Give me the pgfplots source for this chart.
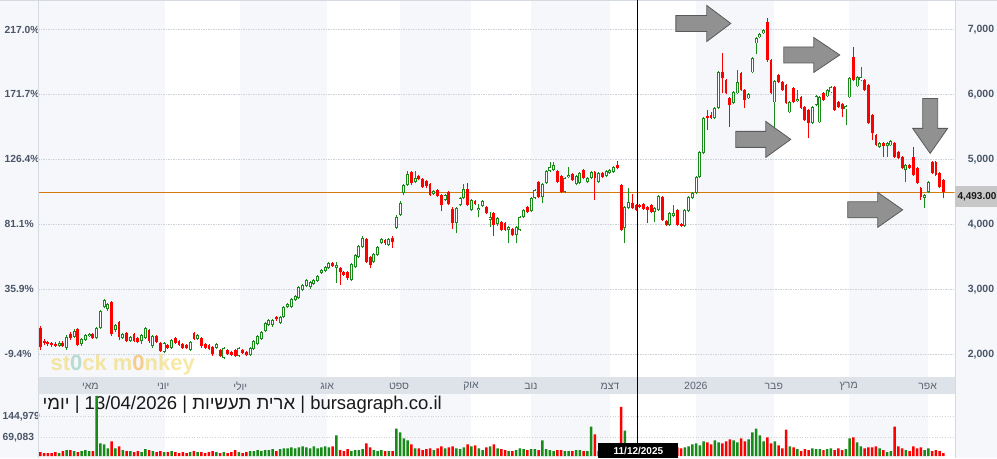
\documentclass[border=0pt]{standalone}
\usepackage{pgfplots}
\pgfplotsset{compat=1.18}
\usepackage{pgfplotstable}
\usepackage{fontspec}
\setmainfont{Liberation Sans}
\newfontfamily\heb[Script=Hebrew]{Liberation Sans}
\TeXXeTstate=1
\definecolor{bandgray}{HTML}{F5F7FA}
\definecolor{strip}{HTML}{DEE2E9}
\definecolor{gridc}{HTML}{CDD3DB}
\definecolor{lab}{HTML}{4A5568}
\definecolor{monthc}{HTML}{5B6472}
\definecolor{cgreen}{HTML}{178A17}
\definecolor{cred}{HTML}{FF0000}
\definecolor{orangeline}{HTML}{D6780A}
\definecolor{arrowfill}{HTML}{8C8C8C}
\definecolor{arrowdraw}{HTML}{5A5A5A}
\definecolor{borderc}{HTML}{D5D9E0}
\definecolor{wm}{HTML}{F2D34B}

\pgfplotstableread{
i o h l c v
0 2400 2431 2062 2108 14400
1 2200 2231 2138 2169 10800
2 2185 2200 2123 2154 10800
3 2169 2185 2108 2138 10800
4 2154 2185 2108 2123 14400
6 2169 2200 2108 2123 18000
8 2308 2338 2215 2246 21600
10 2385 2400 2123 2138 14400
14 2308 2323 2231 2246 18000
19 2800 2815 2277 2308 54000
21 2492 2508 2215 2262 36000
23 2323 2338 2185 2200 18000
25 2308 2323 2185 2200 14400
26 2246 2262 2169 2185 18000
29 2369 2385 2169 2200 21600
31 2277 2292 2169 2185 14400
32 2169 2185 2031 2046 18000
34 2138 2154 2077 2092 14400
36 2246 2262 2154 2169 14400
37 2200 2215 2123 2138 10800
38 2154 2169 2077 2092 14400
39 2138 2154 2077 2092 10800
41 2323 2338 2215 2231 18000
43 2246 2262 2092 2123 14400
44 2154 2169 2077 2092 10800
45 2138 2154 2062 2077 14400
46 2108 2123 1969 2000 18000
48 2062 2077 1954 1969 10800
50 2062 2077 1985 2000 10800
51 2031 2046 1969 1985 14400
52 2062 2077 1954 1969 21600
54 2062 2077 2000 2015 10800
55 2031 2046 1969 1985 14400
63 2569 2585 2508 2538 18000
78 3400 3415 3338 3354 36000
80 3323 3338 3062 3262 21600
81 3262 3277 3200 3215 18000
82 3262 3277 3138 3169 25200
87 3769 3785 3400 3415 46800
88 3492 3508 3323 3369 32400
92 3754 3769 3677 3708 18000
94 3785 3815 3631 3723 18000
99 4800 4815 4600 4631 43200
101 4738 4754 4677 4692 28800
102 4692 4708 4554 4569 21600
103 4662 4677 4554 4585 25200
104 4615 4631 4431 4446 28800
106 4523 4538 4415 4431 28800
107 4446 4462 4200 4292 36000
109 4492 4508 4292 4308 32400
110 4231 4262 3923 4015 36000
114 4538 4631 4277 4292 43200
116 4354 4369 4292 4308 39600
119 4262 4277 4154 4169 32400
121 4169 4185 3815 3985 43200
123 4031 4046 3892 3908 25200
124 4015 4031 3892 3908 21600
126 3923 3938 3815 3831 18000
130 4262 4277 4169 4185 21600
133 4646 4662 4400 4415 21600
138 4815 4831 4631 4646 21600
139 4738 4754 4477 4492 21600
142 4769 4785 4662 4677 18000
145 4831 4846 4692 4708 18000
148 4800 4815 4369 4708 79200
150 4785 4800 4708 4723 14400
154 4908 4969 4846 4862 25200
155 4600 4615 3892 3908 180000
158 4323 4462 4231 4246 21600
159 4292 4308 4200 4215 14400
160 4292 4308 4246 4262 10800
161 4308 4323 4215 4231 14400
162 4262 4277 4015 4215 10800
163 4292 4308 4169 4185 18000
166 4415 4431 4046 4062 28800
167 4046 4062 3969 3985 28800
170 4215 4231 3969 3985 32400
171 4000 4015 3954 3969 28800
178 5662 5754 5446 5631 50400
179 5677 5723 5615 5631 43200
182 6338 6631 6015 6246 46800
183 6215 6231 6000 6015 54000
184 5938 5954 5492 5831 61200
187 6323 6338 6046 6062 64800
188 6062 6077 5785 5908 54000
194 7108 7169 6492 6523 68400
195 6523 6538 6000 6015 46800
197 6292 6308 6169 6185 39600
198 6185 6200 6046 6062 28800
199 6138 6154 5846 5862 97200
201 6092 6108 5862 5877 32400
203 5954 5969 5769 5785 18000
204 5800 5815 5585 5600 25200
205 5754 5769 5323 5554 21600
209 6015 6031 5892 5908 21600
212 6108 6123 5738 5754 21600
213 5877 5892 5785 5800 28800
214 5846 5862 5646 5769 21600
217 6569 6723 6200 6215 68400
220 6215 6231 6046 6062 28800
221 6138 6154 5538 5554 32400
222 5677 5692 5292 5400 32400
223 5369 5385 5200 5215 36000
225 5246 5261 5031 5200 21600
228 5246 5261 5015 5031 108000
229 5108 5123 5000 5015 36000
230 5031 5046 4846 4862 28800
232 4908 4923 4846 4862 18000
233 5031 5185 4738 4754 36000
234 4862 4877 4615 4631 28800
235 4554 4569 4369 4415 32400
238 4954 4969 4769 4785 18000
239 4954 4969 4738 4754 21600
240 4785 4800 4554 4569 18000
241 4677 4692 4400 4493 10800
}\redtab

\pgfplotstableread{
i o h l c v
5 2123 2200 2108 2169 10800
7 2092 2292 2062 2262 21600
9 2262 2385 2246 2354 18000
11 2154 2246 2123 2231 18000
12 2215 2308 2200 2292 21600
13 2277 2323 2262 2308 18000
15 2246 2415 2231 2400 220000
16 2400 2677 2385 2662 46800
17 2723 2846 2708 2831 43200
18 2692 2785 2662 2769 28800
20 2369 2462 2338 2446 28800
22 2246 2323 2231 2308 21600
24 2200 2277 2185 2262 18000
27 2200 2308 2154 2292 14400
28 2246 2415 2231 2400 25200
30 2123 2292 2092 2277 18000
33 2031 2185 2015 2169 14400
35 2092 2231 2077 2215 18000
40 2062 2200 2046 2185 14400
42 2231 2308 2215 2292 14400
47 2092 2169 2077 2154 14400
49 1938 2108 1923 2092 14400
53 1969 2108 1954 2092 14400
56 1985 2108 1969 2092 18000
57 2077 2215 2062 2200 18000
58 2154 2292 2138 2277 21600
59 2231 2354 2215 2338 18000
60 2354 2492 2338 2477 21600
61 2446 2538 2431 2523 21600
62 2446 2538 2415 2523 25200
64 2477 2585 2462 2569 25200
65 2569 2738 2554 2723 28800
66 2723 2785 2708 2769 28800
67 2723 2862 2708 2846 32400
68 2831 2908 2815 2892 28800
69 2862 3046 2846 3031 32400
70 2985 3077 2969 3062 36000
71 3046 3154 3031 3138 32400
72 3031 3123 3000 3108 28800
73 3077 3154 3062 3138 36000
74 3123 3215 3108 3200 28800
75 3246 3308 3231 3292 32400
76 3277 3354 3262 3338 36000
77 3323 3415 3308 3400 32400
79 3323 3415 3092 3369 75600
83 3138 3400 3123 3385 18000
84 3338 3538 3323 3523 21600
85 3492 3677 3477 3662 21600
86 3646 3815 3631 3785 25200
89 3415 3554 3400 3538 21600
90 3523 3662 3508 3646 18000
91 3708 3785 3692 3769 21600
93 3677 3785 3662 3769 18000
95 3938 4138 3923 4108 100800
96 4138 4354 4123 4323 86400
97 4477 4615 4446 4600 64800
98 4600 4815 4585 4769 57600
100 4646 4815 4631 4708 28800
105 4462 4523 4446 4508 21600
108 4369 4462 4354 4446 28800
111 4015 4262 3862 4246 28800
112 4292 4415 4277 4400 25200
113 4400 4615 4385 4538 32400
115 4215 4385 4200 4369 36000
117 4215 4308 4108 4246 28800
118 4277 4369 4262 4354 21600
120 4062 4185 3954 4108 36000
122 4000 4108 3969 4092 28800
125 3908 3969 3708 3954 18000
127 3831 3969 3708 3954 21600
128 3908 4123 3892 4108 28800
129 4108 4231 4092 4215 25200
131 4200 4415 4185 4400 25200
132 4400 4538 4385 4523 25200
134 4415 4631 4323 4615 57600
135 4631 4831 4615 4815 25200
136 4815 4954 4800 4877 21600
137 4831 4954 4815 4908 18000
140 4492 4723 4477 4708 18000
141 4723 4877 4708 4754 18000
143 4615 4754 4600 4738 21600
144 4631 4800 4615 4785 21600
146 4646 4723 4631 4708 18000
147 4708 4815 4692 4800 108000
149 4646 4800 4631 4785 18000
151 4738 4831 4723 4815 18000
152 4785 4846 4769 4831 18000
153 4800 4892 4785 4877 21600
156 3938 4277 3708 4262 93600
157 4246 4554 4231 4338 28800
164 4185 4262 4031 4246 21600
165 4215 4446 4200 4431 25200
168 3985 4185 3969 4169 32400
169 4123 4292 4108 4169 36000
172 3969 4231 3954 4215 32400
173 4200 4431 4185 4415 36000
174 4400 4492 4385 4477 43200
175 4477 4738 4462 4723 46800
176 4723 5123 4708 5108 39600
177 5092 5646 5077 5631 54000
180 5631 5800 5615 5785 57600
181 5785 6354 5769 6338 50400
185 5862 6046 5846 6031 57600
186 6015 6369 6000 6185 50400
189 5938 6015 5923 6000 61200
190 6338 6569 6323 6554 86400
191 6785 6877 6615 6862 100800
192 6877 6938 6862 6923 75600
193 6938 7000 6923 6985 54000
196 5877 6215 5415 6200 54000
200 5723 5892 5708 5877 36000
202 5892 6062 5877 5923 25200
206 5554 5815 5538 5800 28800
207 5831 5985 5815 5969 25200
208 5569 5969 5554 5954 25200
210 5969 6077 5954 6062 25200
211 6031 6123 6015 6108 28800
215 5769 5831 5523 5815 25200
216 5954 6262 5938 6246 64800
218 6123 6277 6108 6262 50400
219 6215 6415 6200 6262 36000
224 5185 5261 5169 5246 28800
226 5200 5261 5031 5246 14400
227 5215 5292 5200 5277 18000
231 4831 4923 4646 4908 21600
236 4400 4462 4246 4446 21600
237 4492 4662 4477 4646 28800
}\greentab

\pgfplotsset{
  candle/.style args={#1/#2}{draw=none, mark=none, forget plot,
    error bars/.cd, y dir=plus, y explicit, error mark=none,
    error bar style={draw=#1, line width=#2}},
}

\begin{document}
\begin{tikzpicture}[x=1pt,y=1pt]
% background
\fill[white] (0,0) rectangle (997,458);
\fill[bandgray] (0,0) rectangle (38,458);
\fill[bandgray] (955,0) rectangle (997,458);
\foreach \a/\b in {38/165,240/327,400/471,531/610,696/774,849/928}
  \fill[bandgray] (\a,0) rectangle (\b,458);
\fill[strip] (38,64) rectangle (955,81);
% watermark
\node[anchor=west, inner sep=0pt, text=wm, text opacity=0.5,
      font=\fontsize{22}{22}\selectfont\bfseries] at (50,93)
  {st\textcolor{cyan!50!wm}{0}ck m\textcolor{orange!60!wm}{0}nkey};

% title line (volume bars are drawn over it)
\node[anchor=west, inner sep=0pt, text=black!90, font=\fontsize{18.5}{20}\selectfont] at (42,53)
  {{\heb\beginR יומי\endR} | 13/04/2026 | {\heb\beginR ארית תעשיות\endR} | bursagraph.co.il};

% main price axis
\begin{axis}[
  at={(38pt,81pt)}, anchor=south west, scale only axis,
  width=917pt, height=377pt,
  xmin=-0.533, xmax=244, ymin=1646, ymax=7446,
  axis line style={draw=none}, major tick length=0pt,
  ytick={2000,3000,4000,5000,6000,7000},
  yticklabels={{2,000},{3,000},{4,000},{5,000},{6,000},{7,000}},
  yticklabel pos=right,
  yticklabel style={anchor=west, inner sep=0pt, xshift=13pt,
     font=\fontsize{10.5}{12}\selectfont\bfseries, text=lab},
  xtick={13.33,32.8,53.33,76.53,95.73,114.93,130.93,152,174.93,195.73,215.73,236.8},
  xticklabels={{\heb\beginR מאי\endR},{\heb\beginR יוני\endR},{\heb\beginR יולי\endR},
    {\heb\beginR אוג\endR},{\heb\beginR ספט\endR},{\heb\beginR אוק\endR},
    {\heb\beginR נוב\endR},{\heb\beginR דצמ\endR},{2026},
    {\heb\beginR פבר\endR},{\heb\beginR מרץ\endR},{\heb\beginR אפר\endR}},
  xticklabel style={anchor=center, inner sep=0pt, yshift=-9pt,
     font=\fontsize{10.5}{12}\selectfont, text=monthc},
  ymajorgrids, grid style={gridc, line width=1.3pt, dash pattern=on 1.5pt off 1pt},
]
\addplot[orangeline, line width=1.2pt, forget plot] coordinates {(-0.533,4493) (244,4493)};
% red candles: wicks then bodies
\addplot[candle={cred/0.9pt}]
  table[x=i, y=l, y error plus expr=\thisrow{h}-\thisrow{l}] {\redtab};
\addplot[candle={cred/2.8pt}]
  table[x=i, y=c, y error plus expr=\thisrow{o}-\thisrow{c}] {\redtab};
% green candles: wicks, outline, hollow interior
\addplot[candle={cgreen/0.9pt}]
  table[x=i, y=l, y error plus expr=\thisrow{h}-\thisrow{l}] {\greentab};
\addplot[candle={cgreen/3pt}]
  table[x=i, y=o, y error plus expr=\thisrow{c}-\thisrow{o}] {\greentab};
\addplot[draw=none, mark=none, forget plot,
    error bars/.cd, y dir=plus, y explicit, error mark=none,
    error bar style={draw=white, line width=1.1pt, shorten <=0.9pt, shorten >=0.9pt}]
  table[x=i, y=o, y error plus expr=\thisrow{c}-\thisrow{o}] {\greentab};
\end{axis}

% left percent labels
\begin{axis}[
  at={(38pt,81pt)}, anchor=south west, scale only axis,
  width=917pt, height=377pt,
  xmin=-0.533, xmax=244, ymin=1646, ymax=7446,
  axis line style={draw=none}, major tick length=0pt, xtick=\empty,
  ytick={2000,3000,4000,5000,6000,7000},
  yticklabels={{-9.4\%},{35.9\%},{81.1\%},{126.4\%},{171.7\%},{217.0\%}},
  yticklabel style={anchor=west, inner sep=0pt, xshift=-34pt,
     font=\fontsize{10.3}{12}\selectfont\bfseries, text=lab},
]
\end{axis}

% volume axis
\begin{axis}[
  at={(38pt,0pt)}, anchor=south west, scale only axis,
  width=917pt, height=63pt,
  xmin=-0.533, xmax=244, ymin=-7300, ymax=222650,
  axis line style={draw=none}, major tick length=0pt, xtick=\empty,
  scaled y ticks=false,
  ytick={69083,144979},
  yticklabels={{69,083},{144,979}},
  yticklabel style={anchor=west, inner sep=0pt, xshift=-36pt,
     font=\fontsize{10.3}{12}\selectfont\bfseries, text=lab},
  ymajorgrids, grid style={gray!35, line width=0.6pt, dotted},
]
\addplot[ybar, bar width=2.5pt, bar shift=0pt, fill=cgreen, draw=none] table[x=i, y=v] {\greentab};
\addplot[ybar, bar width=2.5pt, bar shift=0pt, fill=cred, draw=none] table[x=i, y=v] {\redtab};
\end{axis}

% borders
\draw[borderc, line width=0.8pt] (38.5,0) -- (38.5,458);
\draw[borderc, line width=0.8pt] (955.5,0) -- (955.5,458);
\draw[borderc, line width=0.8pt] (0,457.6) -- (997,457.6);

% arrows
\begin{scope}[fill=arrowfill, draw=arrowdraw, line width=0.8pt, fill opacity=0.95]
\filldraw (676,443) -- (707,443) -- (707,453) -- (731,435) -- (707,417) -- (707,427) -- (676,427) -- cycle;
\filldraw (784,411.5) -- (814,411.5) -- (814,421) -- (840,403.5) -- (814,386) -- (814,395.5) -- (784,395.5) -- cycle;
\filldraw (736,327) -- (766,327) -- (766,337) -- (791,319) -- (766,301) -- (766,311) -- (736,311) -- cycle;
\filldraw (848,256.5) -- (878,256.5) -- (878,266) -- (903,248.5) -- (878,231) -- (878,240.5) -- (848,240.5) -- cycle;
\filldraw (923,360) -- (938,360) -- (938,330) -- (948,330) -- (930.5,305) -- (913,330) -- (923,330) -- cycle;
\end{scope}

% crosshair and date label
\draw[black, line width=1pt] (638,15) -- (638,458);
\fill[black] (598.5,0) rectangle (678.5,15);
\node[text=white, font=\fontsize{10}{11}\selectfont\bfseries, inner sep=0pt] at (638.5,7.5) {11/12/2025};

% last price label
\fill[black!22] (955,251) rectangle (997,272);
\node[anchor=east, inner sep=0pt, text=black!90, font=\fontsize{10}{11}\selectfont\bfseries] at (997,261.5) {4,493.00};
\end{tikzpicture}
\end{document}
